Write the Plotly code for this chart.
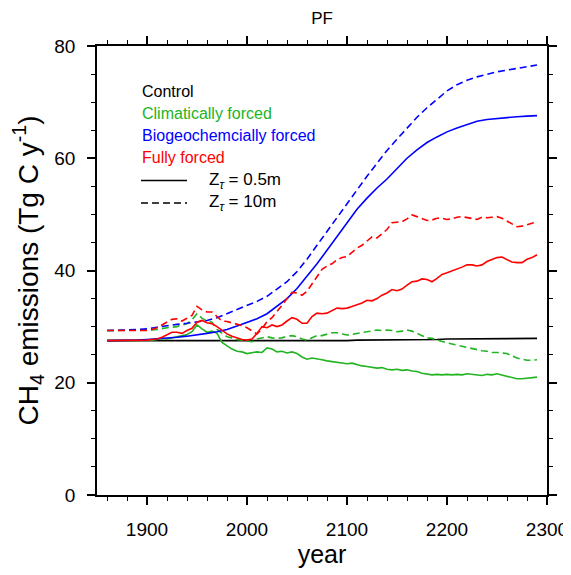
import plotly.graph_objects as go

# ---------------- data ----------------
years5 = list(range(1860, 2291, 5))     # 87 points
years10 = list(range(1860, 2291, 10))   # 44 points

control = [27.5] * 15 + [27.5, 27.4, 27.4, 27.4, 27.4, 27.4, 27.4, 27.4, 27.5, 27.5] + \
    [27.6, 27.6, 27.6, 27.7, 27.7, 27.7, 27.7, 27.7, 27.7, 27.8, 27.8, 27.8, 27.8, 27.8,
     27.9, 27.9, 27.9, 27.9, 27.9]

bgc_05 = [27.5, 27.5, 27.6, 27.6, 27.7, 27.8, 27.9, 28.1, 28.3, 28.5,
          28.8, 29.1, 29.5, 30.1, 30.7, 31.4, 32.3, 33.6, 35.0, 36.8,
          38.9, 41.2, 43.6, 46.1, 48.5, 50.9, 52.9, 54.7, 56.3, 58.2,
          60.0, 61.5, 62.8, 63.8, 64.7, 65.4, 66.0, 66.6, 66.9, 67.1,
          67.2, 67.4, 67.5, 67.6]

bgc_10 = [29.3, 29.3, 29.4, 29.5, 29.6, 29.9, 30.2, 30.4, 30.6, 30.8,
          31.1, 31.6, 32.3, 33.0, 33.8, 34.5, 35.4, 36.7, 38.0, 39.8,
          42.0, 44.5, 47.0, 49.5, 52.0, 54.4, 56.8, 59.1, 61.4, 63.4,
          65.4, 67.3, 69.0, 70.5, 72.0, 73.1, 73.9, 74.5, 75.0, 75.4,
          75.7, 76.0, 76.3, 76.6]

clim_05 = [27.5, 27.5, 27.5, 27.5, 27.5, 27.5, 27.5, 27.5, 27.5, 27.6,
           27.7, 27.9, 27.8, 28.0, 28.2, 28.3, 28.6, 29.1, 30.3, 29.6,
           29.0, 29.2, 28.8, 27.2, 26.6, 26.0, 25.6, 25.5, 25.2, 25.3,
           25.5, 25.4, 26.2, 26.0, 25.5, 25.6, 25.3, 25.5, 25.2, 24.6,
           24.2, 24.4, 24.3, 24.1, 23.9, 23.8, 23.6, 23.5, 23.4, 23.5,
           23.2, 23.0, 22.9, 22.8, 22.6, 22.7, 22.4, 22.3, 22.4, 22.2,
           22.3, 22.1, 22.0, 21.7, 21.5, 21.4, 21.5, 21.4, 21.5, 21.4,
           21.5, 21.4, 21.6, 21.5, 21.4, 21.3, 21.5, 21.4, 21.6, 21.4,
           21.1, 20.9, 20.7, 20.7, 20.8, 20.9, 21.0]

clim_10 = [29.3, 29.3, 29.3, 29.3, 29.3, 29.3, 29.3, 29.3, 29.3, 29.4,
           29.5, 29.7, 29.8, 29.9, 30.0, 30.3, 30.5, 31.2, 32.3, 31.5,
           31.0, 30.8, 29.5, 28.8, 28.2, 28.0, 27.7, 27.6, 27.4, 27.3,
           27.8, 28.0, 28.2, 28.0, 27.9, 28.0, 28.3, 28.4, 28.2, 27.8,
           27.6, 28.0, 28.4, 28.4, 28.6, 28.9, 28.9, 28.7, 28.5, 28.6,
           28.8, 29.0, 29.1, 29.2, 29.4, 29.3, 29.4, 29.3, 29.1, 29.2,
           29.4, 29.2, 28.8, 28.4, 28.0, 27.9, 27.6, 27.3, 27.1, 26.9,
           26.7, 26.5, 26.2, 26.1, 25.9, 25.7, 25.6, 25.4, 25.4, 25.3,
           25.2, 24.8, 24.4, 24.2, 24.0, 24.0, 24.1]

full_05 = [27.5, 27.5, 27.5, 27.5, 27.5, 27.5, 27.5, 27.6, 27.6, 27.7,
           27.8, 28.1, 28.6, 29.0, 29.0, 28.8, 29.3, 29.7, 30.8, 31.1,
           30.7, 30.5, 30.0, 29.4, 28.7, 28.3, 28.0, 27.7, 27.6, 27.8,
           28.8, 30.0, 29.8, 30.3, 30.0, 30.3, 31.0, 31.6, 31.3, 30.6,
           30.6, 31.8, 32.4, 32.3, 32.4, 32.8, 33.3, 33.2, 33.3, 33.6,
           33.9, 34.2, 34.7, 34.6, 35.0, 35.6, 36.0, 36.6, 36.4, 36.7,
           37.4, 38.0, 38.1, 38.5, 38.4, 38.0, 38.6, 39.3, 39.6, 39.9,
           40.3, 40.6, 41.0, 41.0, 40.8, 41.0, 41.6, 42.0, 42.3, 42.4,
           42.0, 41.5, 41.4, 41.4, 42.0, 42.3, 42.8]

full_10 = [29.3, 29.3, 29.3, 29.3, 29.3, 29.3, 29.3, 29.3, 29.3, 29.5,
           29.8, 30.3, 30.8, 31.3, 31.4, 31.0, 31.5, 32.0, 33.6, 33.0,
           32.6, 32.6, 31.8, 31.0, 30.9, 30.7, 30.5, 30.2, 29.8, 29.2,
           28.7, 29.6, 30.9, 31.6, 32.6, 33.8, 35.0, 36.1, 36.0, 35.6,
           36.3, 37.6, 39.0, 40.2, 40.8, 41.2, 41.9, 42.3, 42.5, 43.2,
           44.0, 44.5, 45.3, 46.0, 45.8, 46.6, 47.3, 48.5, 48.6, 48.7,
           49.2, 49.9, 49.6, 49.2, 48.9, 49.0, 49.3, 49.3, 49.1, 49.2,
           49.5, 49.6, 49.4, 49.2, 49.1, 49.5, 49.4, 49.5, 49.6, 49.3,
           48.8, 48.3, 47.8, 47.9, 48.1, 48.4, 48.8]

legend_labels = ["Control", "Climatically forced", "Biogeochemcially forced", "Fully forced"]
depth_labels = ["Z<sub><i>τ</i></sub> = 0.5m", "Z<sub><i>τ</i></sub> = 10m"]

# ---------------- style ----------------
BLACK, GREEN, BLUE, RED = "#000000", "#22b422", "#0000ff", "#ff0000"
FONT = "Liberation Sans, Arial, Helvetica, sans-serif"
DASH = "7px,4px"
LW = 1.6

fig = go.Figure()
series = [
    (years10, control, BLACK, "solid"),
    (years5, clim_05, GREEN, "solid"),
    (years5, clim_10, GREEN, DASH),
    (years10, bgc_05, BLUE, "solid"),
    (years10, bgc_10, BLUE, DASH),
    (years5, full_05, RED, "solid"),
    (years5, full_10, RED, DASH),
]
for x, y, c, d in series:
    fig.add_trace(go.Scatter(x=x, y=y, mode="lines", showlegend=False,
                             line=dict(color=c, width=LW, dash=d)))

# page body margin shifts the figure by 8px; work in window pixel coords
OFF = 8
WIN_W, WIN_H = 571, 575
W, H = WIN_W - OFF, WIN_H - OFF
L, R, T, B = 97, 547, 46, 495          # plot box in window pixels
def px(x): return (x - L) / (R - L)
def py(y): return (B - y) / (B - T)

for lab, col, yy in zip(legend_labels, [BLACK, GREEN, BLUE, RED], [91, 113, 135, 157]):
    fig.add_annotation(x=px(140), y=py(yy), xref="paper", yref="paper", text=lab,
                       showarrow=False, xanchor="left", yanchor="middle",
                       font=dict(family=FONT, size=16, color=col))
for lab, d, yy in zip(depth_labels, ["solid", DASH], [180.5, 203]):
    fig.add_shape(type="line", xref="paper", yref="paper",
                  x0=px(141), x1=px(187), y0=py(yy), y1=py(yy),
                  line=dict(color=BLACK, width=LW, dash=d))
    fig.add_annotation(x=px(207), y=py(yy), xref="paper", yref="paper", text=lab,
                       showarrow=False, xanchor="left", yanchor="middle",
                       font=dict(family=FONT, size=17, color=BLACK))

axis_common = dict(showline=True, linecolor="black", linewidth=1.5, mirror="ticks",
                   ticks="outside", ticklen=8, tickwidth=1.5, tickcolor="black",
                   showgrid=False, zeroline=False, automargin=False,
                   tickfont=dict(family=FONT, size=19, color="black"))

fig.update_layout(
    width=W, height=H,
    margin=dict(l=L - OFF, r=WIN_W - R, t=T - OFF, b=WIN_H - B, autoexpand=False),
    paper_bgcolor="white", plot_bgcolor="white",
    title=dict(text="PF", x=(0.5 * (L + R) - OFF) / W, xanchor="center",
               y=1 - (18 - OFF) / H, yanchor="middle",
               font=dict(family=FONT, size=17, color="black")),
    xaxis=dict(range=[1850, 2300], tick0=1900, dtick=100,
               minor=dict(dtick=20, tick0=1900, ticklen=4, tickwidth=1, tickcolor="black", ticks="outside"),
               title=dict(text="year", font=dict(family=FONT, size=25, color="black"), standoff=7),
               ticklabelstandoff=8, **axis_common),
    yaxis=dict(range=[0, 80], tick0=0, dtick=20,
               minor=dict(dtick=5, tick0=0, ticklen=4, tickwidth=1, tickcolor="black", ticks="outside"),
               title=dict(text="CH<sub>4</sub> emissions (Tg C y<sup>-1</sup>)",
                          font=dict(family=FONT, size=28, color="black"), standoff=10),
               ticklabelstandoff=8, **axis_common),
)

fig.write_html("out.html")
